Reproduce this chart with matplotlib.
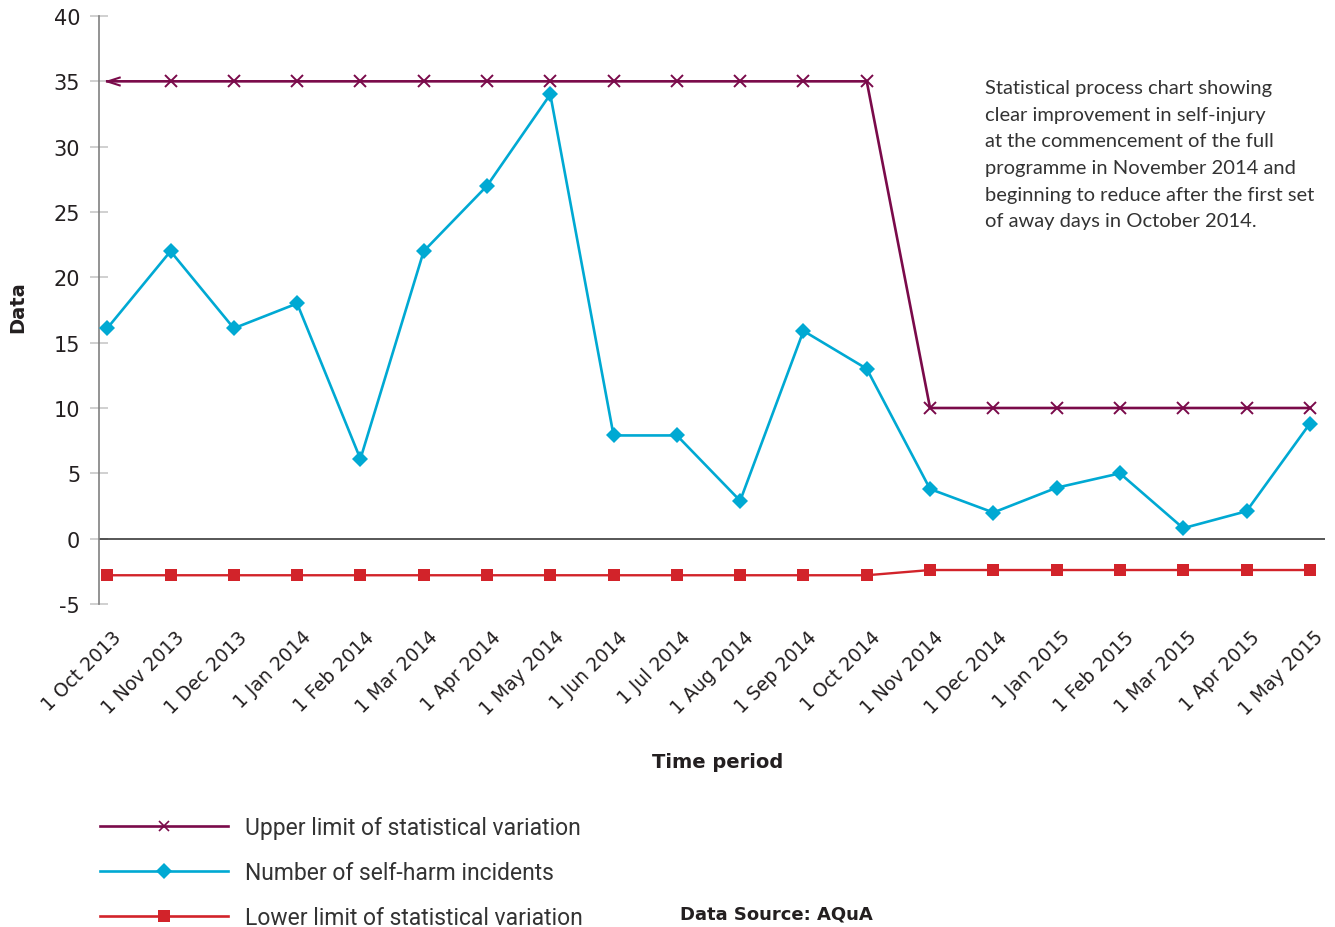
import matplotlib
matplotlib.use("Agg")
import matplotlib.pyplot as plt
from matplotlib.lines import Line2D
from matplotlib.path import Path
import matplotlib.transforms as mtransforms

plt.rcParams["axes.unicode_minus"] = False

# data
months = ["1 Oct 2013", "1 Nov 2013", "1 Dec 2013", "1 Jan 2014", "1 Feb 2014",
          "1 Mar 2014", "1 Apr 2014", "1 May 2014", "1 Jun 2014", "1 Jul 2014",
          "1 Aug 2014", "1 Sep 2014", "1 Oct 2014", "1 Nov 2014", "1 Dec 2014",
          "1 Jan 2015", "1 Feb 2015", "1 Mar 2015", "1 Apr 2015", "1 May 2015"]
upper_limit = [35, 35, 35, 35, 35, 35, 35, 35, 35, 35, 35, 35, 35,
               10, 10, 10, 10, 10, 10, 10]
incidents = [16.1, 22, 16.1, 18, 6.1, 22, 27, 34, 7.9, 7.9, 2.9, 15.9, 13,
             3.8, 2, 3.9, 5, 0.8, 2.1, 8.8]
lower_limit = [-2.8, -2.8, -2.8, -2.8, -2.8, -2.8, -2.8, -2.8, -2.8, -2.8, -2.8, -2.8, -2.8,
               -2.4, -2.4, -2.4, -2.4, -2.4, -2.4, -2.4]

legend_labels = ["Upper limit of statistical variation",
                 "Number of self-harm incidents",
                 "Lower limit of statistical variation"]
note = ("Statistical process chart showing\n"
        "clear improvement in self-injury\n"
        "at the commencement of the full\n"
        "programme in November 2014 and\n"
        "beginning to reduce after the first set\n"
        "of away days in October 2014.")

PURPLE = "#7a0a4a"
BLUE = "#00a9d3"
RED = "#d2232a"
TXT = "#231f20"

W, H = 1335, 928
fig = plt.figure(figsize=(W / 100, H / 100), dpi=100)
ax = fig.add_axes([99 / W, 1 - 605 / H, (1325 - 99) / W, (605 - 17) / H])

x = list(range(len(months)))

# open arrow head used for the first point of the upper limit
arrow = Path([(1, 0.32), (0, 0), (1, -0.32)], [Path.MOVETO, Path.LINETO, Path.LINETO])

ax.plot(x, upper_limit, color=PURPLE, lw=1.9, marker="x", ms=8.5, mew=1.4,
        markevery=slice(1, None), zorder=3)
ax.plot(x[:1], upper_limit[:1], color=PURPLE, marker=arrow, ms=19, mfc="none",
        mew=1.5, ls="none", zorder=3)
ax.plot(x, incidents, color=BLUE, lw=1.9, marker="D", ms=8.5, mew=0, zorder=4)
ax.plot(x, lower_limit, color=RED, lw=1.7, marker="s", ms=9, mew=0, zorder=3)

ax.axhline(0, color="#3a3a3a", lw=1.2, zorder=2)

ax.set_xlim(-0.13, 19.24)
ax.set_ylim(-5, 40)
ax.set_yticks(range(-5, 41, 5))
ax.tick_params(axis="y", direction="inout", length=13, width=1.2, color="#c8c8c8",
               labelsize=15, labelcolor=TXT, pad=7)
ax.tick_params(axis="x", length=0, labelsize=13.5, labelcolor=TXT, pad=16.5)
ax.set_xticks(x)
ax.set_xticklabels(months, rotation=45, ha="right", rotation_mode="anchor")
shift = mtransforms.ScaledTranslation(0.04, 0, fig.dpi_scale_trans)
for lbl in ax.get_xticklabels():
    lbl.set_transform(lbl.get_transform() + shift)

for side in ["top", "right", "bottom"]:
    ax.spines[side].set_visible(False)
ax.spines["left"].set_color("#808080")
ax.spines["left"].set_linewidth(1.2)

fig.text(18 / W, 1 - 307 / H, "Data", rotation=90, ha="center", va="center",
         fontsize=14, fontweight="bold", color=TXT)
fig.text(718 / W, 1 - 763 / H, "Time period", ha="center", va="center",
         fontsize=14, fontweight="bold", color=TXT)
fig.text(985 / W, 1 - 80 / H, note, ha="left", va="top", fontsize=14.5,
         family="Lato", color="#333333", linespacing=1.69)
fig.text(680 / W, 1 - 915 / H, "Data Source: AQuA", ha="left", va="center",
         fontsize=13, fontweight="bold", color=TXT)

handles = [
    Line2D([], [], color=PURPLE, lw=1.9, marker="x", ms=7, mew=1.2),
    Line2D([], [], color=BLUE, lw=1.9, marker="D", ms=8, mew=0),
    Line2D([], [], color=RED, lw=1.9, marker="s", ms=9, mew=0),
]
fig.legend(handles, legend_labels, loc="upper left",
           bbox_to_anchor=(100 / W, 1 - 817 / H), frameon=False, numpoints=1,
           handlelength=5.6, handletextpad=0.74, labelspacing=0.97, borderpad=0,
           borderaxespad=0, prop={"family": "Roboto", "size": 16.5},
           labelcolor="#333333")

fig.savefig("out.png", dpi=100)
